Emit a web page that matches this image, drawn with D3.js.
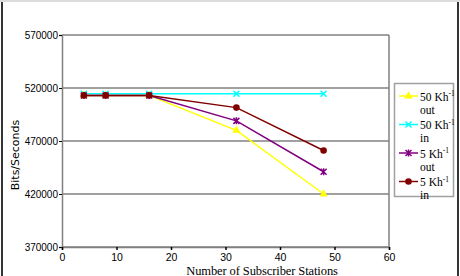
<!DOCTYPE html>
<html>
<head>
<meta charset="utf-8">
<script src="https://cdn.jsdelivr.net/npm/d3@7"></script>
<style>
  body { margin: 0; background: #fff; }
  svg { display: block; }
</style>
</head>
<body>
<svg id="chart" width="460" height="276"></svg>
<script>
// stations on the x axis
var stations = [4, 8, 16, 32, 48];

// throughput in bits/second, one array per series
var out50 = [513000, 513000, 513000, 480000, 420000];
var in50 = [514500, 514500, 514500, 514500, 514500];
var out5 = [513000, 513000, 513000, 489000, 441000];
var in5 = [513000, 513000, 513000, 501500, 461000];

var xTicks = [0, 10, 20, 30, 40, 50, 60];
var yTicks = [370000, 420000, 470000, 520000, 570000];

var series = [
    { name: "50 Kh", dir: "out", values: out50, color: "#ffff00", marker: "triangle" },
    { name: "50 Kh", dir: "in", values: in50, color: "#00ffff", marker: "x" },
    { name: "5 Kh", dir: "out", values: out5, color: "#800080", marker: "star" },
    { name: "5 Kh", dir: "in", values: in5, color: "#800000", marker: "circle" }
];

var plot = { left: 62, right: 389, top: 35, bottom: 247 };

var svg = d3.select("#chart");

// outer frame
svg.append("line").attr("x1", 0).attr("x2", 460).attr("y1", 1).attr("y2", 1)
    .attr("stroke", "#d0d0d0").attr("stroke-width", 1.5);
svg.append("line").attr("x1", 2).attr("x2", 2).attr("y1", 2).attr("y2", 276)
    .attr("stroke", "#333").attr("stroke-width", 2);
svg.append("line").attr("x1", 458).attr("x2", 458).attr("y1", 2).attr("y2", 276)
    .attr("stroke", "#333").attr("stroke-width", 2);

var x = d3.scaleLinear().domain([0, 60]).range([plot.left, plot.right]);
var y = d3.scaleLinear().domain([370000, 570000]).range([plot.bottom, plot.top]);

// gridlines
svg.append("g")
    .selectAll("line")
    .data(yTicks)
    .enter()
    .append("line")
        .attr("x1", plot.left)
        .attr("x2", plot.right)
        .attr("y1", function (d) { return y(d); })
        .attr("y2", function (d) { return y(d); })
        .attr("stroke", "#808080")
        .attr("stroke-width", 1.5);

// plot border (right side)
svg.append("line")
    .attr("x1", plot.right).attr("x2", plot.right)
    .attr("y1", plot.top).attr("y2", plot.bottom)
    .attr("stroke", "#808080").attr("stroke-width", 1.5);

// y axis
var yAxis = svg.append("g")
    .attr("transform", "translate(" + plot.left + ",0)")
    .call(d3.axisLeft(y).tickValues(yTicks).tickSize(3).tickFormat(d3.format("d")));
yAxis.select(".domain").attr("stroke", "#808080").attr("stroke-width", 1.5);
yAxis.selectAll(".tick line").attr("stroke", "#000");
yAxis.selectAll(".tick text")
    .attr("font-family", "Liberation Sans, Arial, sans-serif")
    .attr("font-size", "10px")
    .attr("x", -4)
    .attr("fill", "#000");

// x axis
var xAxis = svg.append("g")
    .attr("transform", "translate(0," + plot.bottom + ")")
    .call(d3.axisBottom(x).tickValues(xTicks).tickSize(3));
xAxis.select(".domain").attr("stroke", "#808080").attr("stroke-width", 1.5);
xAxis.selectAll(".tick line").attr("stroke", "#000").attr("stroke-width", 1.5);
xAxis.selectAll(".tick text")
    .attr("font-family", "Liberation Sans, Arial, sans-serif")
    .attr("font-size", "10.5px")
    .attr("y", 7)
    .attr("fill", "#000");

// axis titles
svg.append("text")
    .attr("transform", "rotate(-90)")
    .attr("x", -155)
    .attr("y", 19)
    .attr("text-anchor", "middle")
    .attr("font-family", "DejaVu Sans, Verdana, sans-serif")
    .attr("font-size", "11px")
    .text("Bits/Seconds");

svg.append("text")
    .attr("x", 262)
    .attr("y", 274.5)
    .attr("text-anchor", "middle")
    .attr("font-family", "Liberation Serif, Times New Roman, serif")
    .attr("font-size", "12.5px")
    .attr("letter-spacing", "-0.1")
    .text("Number of Subscriber Stations");

// marker drawing
function drawMarker(g, type, color, cx, cy) {
    if (type === "triangle") {
        g.append("path")
            .attr("d", d3.symbol().type(d3.symbolTriangle).size(30))
            .attr("transform", "translate(" + cx + "," + cy + ")")
            .attr("fill", color);
    } else if (type === "x") {
        g.append("path")
            .attr("d", "M-3,-3L3,3M-3,3L3,-3")
            .attr("transform", "translate(" + cx + "," + cy + ")")
            .attr("stroke", color).attr("stroke-width", 1.5).attr("fill", "none");
    } else if (type === "star") {
        g.append("path")
            .attr("d", "M-3,-3L3,3M-3,3L3,-3M0,-3.5L0,3.5")
            .attr("transform", "translate(" + cx + "," + cy + ")")
            .attr("stroke", color).attr("stroke-width", 1.5).attr("fill", "none");
    } else {
        g.append("circle")
            .attr("cx", cx).attr("cy", cy).attr("r", 3.3)
            .attr("fill", color);
    }
}

var line = d3.line()
    .x(function (d, i) { return x(stations[i]); })
    .y(function (d) { return y(d); });

var lines = svg.append("g");
series.forEach(function (s) {
    lines.append("path")
        .datum(s.values)
        .attr("d", line)
        .attr("fill", "none")
        .attr("stroke", s.color)
        .attr("stroke-width", 1.5);
    s.values.forEach(function (v, i) {
        drawMarker(lines, s.marker, s.color, x(stations[i]), y(v));
    });
});

// legend
var legend = svg.append("g");
legend.append("rect")
    .attr("x", 394.5).attr("y", 83.5).attr("width", 59).attr("height", 113)
    .attr("fill", "#fff").attr("stroke", "#a0a0a0").attr("stroke-width", 1.5);

series.forEach(function (s, i) {
    var ly = 96 + i * 28.5;
    legend.append("line")
        .attr("x1", 399).attr("x2", 418)
        .attr("y1", ly).attr("y2", ly)
        .attr("stroke", s.color).attr("stroke-width", 1.5);
    drawMarker(legend, s.marker, s.color, 408.5, ly);
    var t = legend.append("text")
        .attr("x", 420)
        .attr("y", ly + 4.5)
        .attr("font-family", "Liberation Serif, Times New Roman, serif")
        .attr("font-size", "11.5px");
    t.append("tspan").text(s.name);
    t.append("tspan").attr("dy", -4.5).attr("font-size", "7.5px").text("-1");
    legend.append("text")
        .attr("x", 420)
        .attr("y", ly + 17.5)
        .attr("font-family", "Liberation Serif, Times New Roman, serif")
        .attr("font-size", "11.5px")
        .text(s.dir);
});
</script>
</body>
</html>
